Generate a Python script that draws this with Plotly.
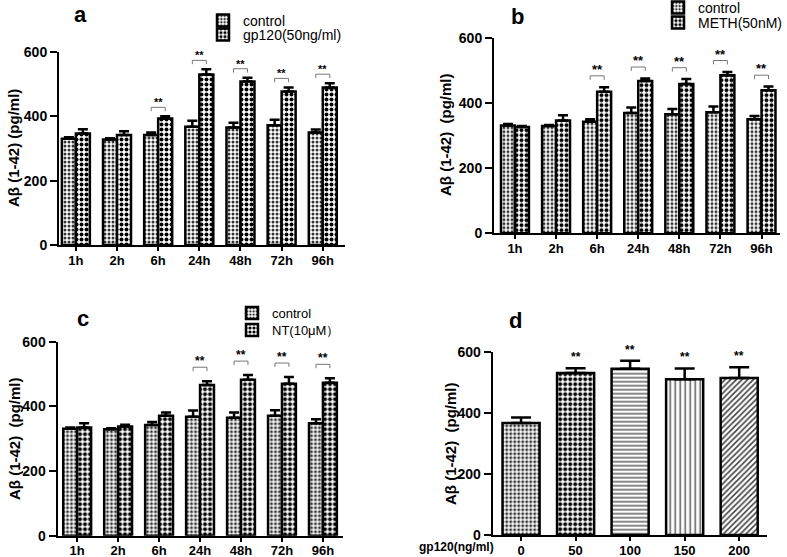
import plotly.graph_objects as go

# ---------------- data ----------------
hours = ["1h", "2h", "6h", "24h", "48h", "72h", "96h"]

a_ctrl = [330, 328, 342, 368, 365, 372, 350]
a_ctrl_err = [5, 4, 8, 18, 15, 17, 9]
a_trt = [347, 342, 393, 530, 508, 477, 490]
a_trt_err = [13, 12, 7, 16, 12, 13, 13]
a_sig = [False, False, True, True, True, True, True]

b_ctrl = [331, 329, 342, 369, 365, 371, 350]
b_ctrl_err = [4, 3, 8, 17, 16, 18, 10]
b_trt = [326, 346, 434, 467, 458, 485, 439]
b_trt_err = [3, 16, 14, 8, 15, 10, 11]
b_sig = [False, False, True, True, True, True, True]

c_ctrl = [331, 329, 342, 368, 365, 371, 348]
c_ctrl_err = [4, 3, 10, 19, 16, 17, 12]
c_trt = [335, 338, 371, 466, 482, 470, 473]
c_trt_err = [13, 5, 10, 12, 15, 21, 14]
c_sig = [False, False, False, True, True, True, True]

d_doses = ["0", "50", "100", "150", "200"]
d_vals = [367, 530, 544, 510, 514]
d_err = [18, 16, 26, 35, 35]
d_sig = [False, True, True, True, True]

y_ticks = [0, 200, 400, 600]
legend_a = ["control", "gp120(50ng/ml)"]
legend_b = ["control", "METH(50nM)"]
legend_c = ["control", "NT(10μM）"]
ytitle_a = "Aβ (1-42) (pg/ml)"
ytitle_other = "Aβ (1-42)\u00a0\u00a0(pg/ml)"
d_xlabel = "gp120(ng/ml)"

# ---------------- styling ----------------
FONT = "Arial, 'Liberation Sans', sans-serif"
W, H = 787, 557
FINE = dict(shape=".", size=4, solidity=0.45, fgcolor="#333333", bgcolor="white", fillmode="replace")
CHECK = dict(shape=".", size=5, solidity=0.5, fgcolor="black", bgcolor="white", fillmode="replace")
HLINE = dict(shape="-", size=4, solidity=0.35, fgcolor="#555555", bgcolor="white", fillmode="replace")
VLINE = dict(shape="|", size=5, solidity=0.3, fgcolor="#555555", bgcolor="white", fillmode="replace")
DIAG = dict(shape="/", size=4, solidity=0.4, fgcolor="#444444", bgcolor="white", fillmode="replace")


def px_x(p):
    return p / W


def px_y(p):
    return 1 - p / H


fig = go.Figure()

panels = [
    ("", a_ctrl, a_ctrl_err, a_trt, a_trt_err, a_sig, legend_a, 28, 11),
    ("2", b_ctrl, b_ctrl_err, b_trt, b_trt_err, b_sig, legend_b, 35, 13),
    ("3", c_ctrl, c_ctrl_err, c_trt, c_trt_err, c_sig, legend_c, 43, 12),
]

legend_pos = {
    "": [(243, 21), (243, 35)],
    "2": [(698, 8), (698, 23)],
    "3": [(272, 313), (272, 330)],
}
legend_font = {"": 14, "2": 14, "3": 13}

shapes = []
annotations = []
legend_layouts = {}
leg_counter = 1

BAR_HALF = 0.17

for suffix, ctrl, ctrl_err, trt, trt_err, sig, names, boff, ssize in panels:
    xa = "x" + suffix
    ya = "y" + suffix
    xs = list(range(len(hours)))
    for k, (vals, errs, patt) in enumerate([(ctrl, ctrl_err, FINE), (trt, trt_err, CHECK)]):
        lname = "legend" if leg_counter == 1 else f"legend{leg_counter}"
        tx, ty = legend_pos[suffix][k]
        legend_layouts[lname] = dict(
            x=px_x(tx - 40), y=px_y(ty), xanchor="left", yanchor="middle",
            bgcolor="rgba(0,0,0,0)", borderwidth=0,
            font=dict(family=FONT, size=legend_font[suffix], color="black"),
            itemwidth=30,
        )
        fig.add_trace(go.Bar(
            x=xs, y=vals, name=names[k], xaxis=xa, yaxis=ya,
            legend=lname, showlegend=True,
            marker=dict(color="white", pattern=patt, line=dict(color="black", width=2.5)),
            error_y=dict(type="data", array=errs, arrayminus=[0] * len(errs), symmetric=False,
                         color="black", thickness=2.5, width=5),
            offsetgroup=str(k),
        ))
        leg_counter += 1
    for i, s in enumerate(sig):
        if not s:
            continue
        h = trt[i] + trt_err[i] + boff
        x0, x1 = i - BAR_HALF, i + BAR_HALF
        line = dict(color="#777777", width=1)
        shapes.append(dict(type="line", xref=xa, yref=ya, x0=x0, x1=x1, y0=h, y1=h, line=line))
        shapes.append(dict(type="line", xref=xa, yref=ya, x0=x0, x1=x0, y0=h, y1=h - 12, line=line))
        shapes.append(dict(type="line", xref=xa, yref=ya, x0=x1, x1=x1, y0=h, y1=h - 12, line=line))
        annotations.append(dict(x=i, y=h, xref=xa, yref=ya, text="**", showarrow=False,
                                yanchor="bottom", yshift=-3,
                                font=dict(family=FONT, size=ssize, color="black", weight="bold")))

d_patterns = [FINE, CHECK, HLINE, VLINE, DIAG]
fig.add_trace(go.Bar(
    x=list(range(len(d_doses))), y=d_vals, xaxis="x4", yaxis="y4", showlegend=False,
    marker=dict(color="white", pattern=dict(
        shape=[p["shape"] for p in d_patterns],
        size=[p["size"] for p in d_patterns],
        solidity=[p["solidity"] for p in d_patterns],
        fgcolor=[p["fgcolor"] for p in d_patterns],
        bgcolor="white", fillmode="replace"),
        line=dict(color="black", width=2.5)),
    width=0.68,
    error_y=dict(type="data", array=d_err, arrayminus=[0] * len(d_err), symmetric=False,
                 color="black", thickness=2.5, width=10),
))
for i, s in enumerate(d_sig):
    if s:
        annotations.append(dict(x=i, y=d_vals[i] + d_err[i], xref="x4", yref="y4", text="**",
                                showarrow=False, yanchor="bottom", yshift=2,
                                font=dict(family=FONT, size=12, color="black", weight="bold")))

axis_common = dict(showline=True, linewidth=2, linecolor="black", showgrid=False, zeroline=False,
                   ticks="outside", tickwidth=2, tickcolor="black")

geom = {
    "": (59, 345, 52, 245, [-0.41, 6.54], hours),
    "2": (494, 780, 37.7, 233.3, [-0.51, 6.45], hours),
    "3": (57.5, 343, 341.7, 535.7, [-0.48, 6.49], hours),
    "4": (492.7, 767, 351.7, 535, [-0.52, 4.51], d_doses),
}
layout_axes = {}
for suffix, (xl, xr, yt, yb, xr_range, labels) in geom.items():
    xname = "xaxis" + suffix
    yname = "yaxis" + suffix
    layout_axes[xname] = dict(axis_common, domain=[px_x(xl), px_x(xr)], range=xr_range,
                              anchor="y" + suffix, tickmode="array",
                              tickvals=list(range(len(labels))), ticktext=labels, ticklen=4,
                              ticklabelstandoff=-2,
                              tickfont=dict(family=FONT, size=13, color="black", weight="bold"))
    layout_axes[yname] = dict(axis_common, domain=[px_y(yb), px_y(yt)], range=[0, 600],
                              anchor="x" + suffix, tickmode="array", tickvals=y_ticks, ticklen=7,
                              tickfont=dict(family=FONT, size=14, color="black", weight="bold"))

ytitles = [(14, 148, ytitle_a), (445, 135, ytitle_other), (15, 439, ytitle_other), (450, 443, ytitle_other)]
for x, y, t in ytitles:
    annotations.append(dict(x=px_x(x), y=px_y(y), xref="paper", yref="paper", text=t, textangle=-90,
                            showarrow=False, xanchor="center", yanchor="middle",
                            font=dict(family=FONT, size=15, color="black", weight="bold")))

for x, y, t in [(80, 15, "a"), (517, 17, "b"), (83, 318, "c"), (515, 320, "d")]:
    annotations.append(dict(x=px_x(x), y=px_y(y), xref="paper", yref="paper", text=t,
                            showarrow=False, xanchor="center", yanchor="middle",
                            font=dict(family=FONT, size=22, color="black", weight="bold")))

annotations.append(dict(x=px_x(456), y=px_y(547), xref="paper", yref="paper", text=d_xlabel,
                        showarrow=False, xanchor="center", yanchor="middle",
                        font=dict(family=FONT, size=12, color="black", weight="bold")))

fig.update_layout(
    width=W, height=H, margin=dict(l=0, r=0, t=0, b=0, autoexpand=False),
    paper_bgcolor="white", plot_bgcolor="white",
    barmode="group", bargap=0.32, bargroupgap=0,
    shapes=shapes, annotations=annotations,
    **layout_axes, **legend_layouts,
)

fig.write_html("out.html", config={"displayModeBar": False},
               post_script="document.body.style.margin='0';document.body.style.padding='0';")
